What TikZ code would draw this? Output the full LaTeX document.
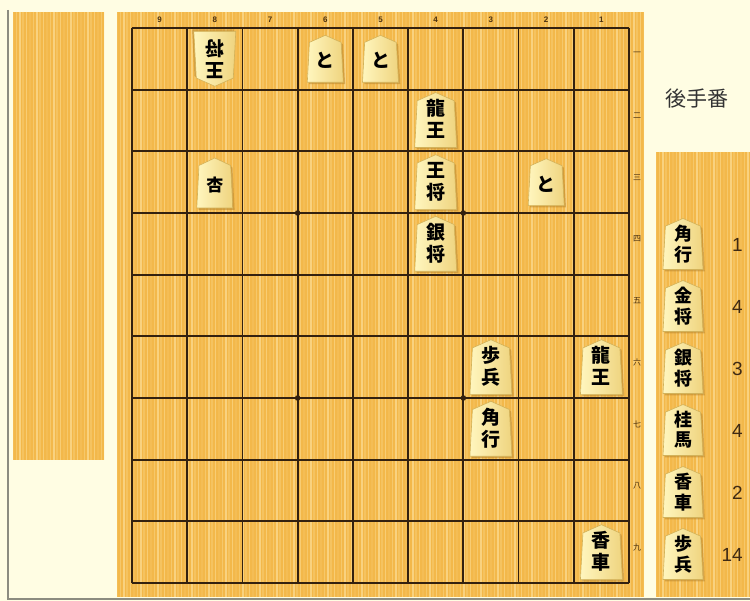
\documentclass[tikz,border=0pt]{standalone}
\usepackage{fontspec}
\setmainfont{Liberation Sans}
\newfontfamily\jp{Noto Sans CJK JP}
\definecolor{bg}{HTML}{FFFDE3}
\definecolor{boardc}{HTML}{F3B84A}
\definecolor{stripec}{HTML}{FAD584}
\definecolor{gridc}{HTML}{33210F}
\definecolor{pieceL}{HTML}{FFF6BE}
\definecolor{pieceR}{HTML}{EFD47F}
\definecolor{pieceE}{HTML}{D2B25A}
\definecolor{komashadow}{HTML}{B9862E}
\definecolor{labelc}{HTML}{4A3010}
\definecolor{framec}{HTML}{8C8C80}
\definecolor{countc}{HTML}{3F2A14}
\tikzset{
  gridline/.style={draw=gridc, line width=1.8},
  kanji/.style={font=\jp\bfseries\fontsize{19}{19}\selectfont, inner sep=0pt, text=black},
  handkanji/.style={font=\jp\bfseries\fontsize{18}{18}\selectfont, inner sep=0pt, text=black},
  piecebody/.style={left color=pieceL, right color=pieceR, draw=pieceE, line width=0.6},
  colnum/.style={font=\bfseries\fontsize{8}{8}\selectfont, text=labelc, inner sep=0pt},
  ranknum/.style={font=\jp\fontsize{8}{8}\selectfont, text=labelc, inner sep=0pt},
  countnum/.style={font=\fontsize{19}{19}\selectfont, text=countc, inner sep=0pt, anchor=east},
  pics/koma/.style n args={4}{code={
    \path[fill=komashadow, fill opacity=0.55, shift={(1.8,1.8)}]
      (-0.5*#1,0.5*#2) -- (0.5*#1,0.5*#2) -- (0.44*#1,-0.35*#2) -- (0,-0.5*#2) -- (-0.44*#1,-0.35*#2) -- cycle;
    \path[piecebody]
      (-0.5*#1,0.5*#2) -- (0.5*#1,0.5*#2) -- (0.44*#1,-0.35*#2) -- (0,-0.5*#2) -- (-0.44*#1,-0.35*#2) -- cycle;
    \node[kanji] (-a) at (0,-0.21*#2) {#3};
    \node[kanji] (-b) at (0,0.19*#2) {#4};
  }},
  pics/handkoma/.style n args={4}{code={
    \path[fill=komashadow, fill opacity=0.55, shift={(1.8,1.8)}]
      (-0.5*#1,0.5*#2) -- (0.5*#1,0.5*#2) -- (0.44*#1,-0.35*#2) -- (0,-0.5*#2) -- (-0.44*#1,-0.35*#2) -- cycle;
    \path[piecebody]
      (-0.5*#1,0.5*#2) -- (0.5*#1,0.5*#2) -- (0.44*#1,-0.35*#2) -- (0,-0.5*#2) -- (-0.44*#1,-0.35*#2) -- cycle;
    \node[handkanji] (-a) at (0,-0.2*#2) {#3};
    \node[handkanji] (-b) at (0,0.2*#2) {#4};
  }},
  pics/komaone/.style n args={4}{code={
    \path[fill=komashadow, fill opacity=0.55, shift={(1.8,1.8)}]
      (-0.5*#1,0.5*#2) -- (0.5*#1,0.5*#2) -- (0.44*#1,-0.35*#2) -- (0,-0.5*#2) -- (-0.44*#1,-0.35*#2) -- cycle;
    \path[piecebody]
      (-0.5*#1,0.5*#2) -- (0.5*#1,0.5*#2) -- (0.44*#1,-0.35*#2) -- (0,-0.5*#2) -- (-0.44*#1,-0.35*#2) -- cycle;
    \node[kanji, font=\jp\bfseries\fontsize{#4}{#4}\selectfont] (-a) at (0,0.04*#2) {#3};
  }},
}
\begin{document}
\begin{tikzpicture}[x=1pt, y=-1pt]
\useasboundingbox (0,0) rectangle (750,601);
\fill[bg] (0,0) rectangle (750,601);
% frame
\draw[framec, line width=1.4] (8,10) -- (8,599) -- (750,599);
% left hand panel
\begin{scope}
  \clip (13,12) rectangle (104,460);
  \fill[boardc] (13,12) rectangle (104,460);
  \foreach \i in {0,...,27} {
    \pgfmathsetmacro\xx{13+\i*3.4}
    \pgfmathsetmacro\op{0.2+0.18*mod(\i*7,5)}
    \draw[stripec, opacity=\op, line width=1.5] (\xx,12) -- (\xx,460);
  }
\end{scope}
% board
\begin{scope}
  \clip (117,12) rectangle (644,597);
  \fill[boardc] (117,12) rectangle (644,597);
  \foreach \i in {0,...,155} {
    \pgfmathsetmacro\xx{117+\i*3.4}
    \pgfmathsetmacro\op{0.2+0.18*mod(\i*7,5)}
    \draw[stripec, opacity=\op, line width=1.5] (\xx,12) -- (\xx,597);
  }
\end{scope}
% right hand panel
\begin{scope}
  \clip (656,152) rectangle (750,597);
  \fill[boardc] (656,152) rectangle (750,597);
  \foreach \i in {0,...,28} {
    \pgfmathsetmacro\xx{656+\i*3.4}
    \pgfmathsetmacro\op{0.2+0.18*mod(\i*7,5)}
    \draw[stripec, opacity=\op, line width=1.5] (\xx,152) -- (\xx,597);
  }
\end{scope}
% grid
\foreach \i in {0,...,9} {
  \draw[gridline] ({132+55.222*\i},28) -- ({132+55.222*\i},583);
  \draw[gridline] (132,{28+61.667*\i}) -- (629,{28+61.667*\i});
}
\fill[gridc] (297.67,213) circle (2.8);
\fill[gridc] (463.33,213) circle (2.8);
\fill[gridc] (297.67,398) circle (2.8);
\fill[gridc] (463.33,398) circle (2.8);
% column numbers
\foreach \c [count=\k from 0] in {9,8,7,6,5,4,3,2,1} {
  \node[colnum] (col\c) at ({159.6+55.222*\k},20) {\c};
}
% rank numbers
\foreach \r [count=\k from 0] in {一,二,三,四,五,六,七,八,九} {
  \node[ranknum] (rank\k) at (637,{54+61.667*\k}) {\r};
}
% pieces on board
\pic[rotate=180, transform shape] (p81) at (214.8,58.8) {koma={42}{55}{王}{将}};
\pic (p61) at (325.3,58.8) {komaone={36}{47}{と}{19}};
\pic (p51) at (380.5,58.8) {komaone={36}{47}{と}{19}};
\pic (p42) at (435.7,120.0) {koma={42}{55}{龍}{王}};
\pic (p83) at (214.8,183.0) {komaone={36}{50}{杏}{17}};
\pic (p43) at (435.7,182.2) {koma={42}{55}{王}{将}};
\pic (p23) at (546.2,182.2) {komaone={36}{47}{と}{19}};
\pic (p44) at (435.7,243.8) {koma={42}{55}{銀}{将}};
\pic (p36) at (490.9,367.2) {koma={42}{55}{歩}{兵}};
\pic (p16) at (601.4,367.2) {koma={42}{55}{龍}{王}};
\pic (p37) at (490.9,428.8) {koma={42}{55}{角}{行}};
\pic (p19) at (601.4,552.2) {koma={42}{55}{香}{車}};
% turn label
\node[font=\jp\fontsize{21}{21}\selectfont, text=black!80, inner sep=0pt] (turn) at (697,99) {後手番};
% pieces in hand
\pic (h1) at (683,244) {handkoma={40}{51}{角}{行}};
\pic (h2) at (683,306) {handkoma={40}{51}{金}{将}};
\pic (h3) at (683,368) {handkoma={40}{51}{銀}{将}};
\pic (h4) at (683,430) {handkoma={40}{51}{桂}{馬}};
\pic (h5) at (683,492) {handkoma={40}{51}{香}{車}};
\pic (h6) at (683,554) {handkoma={40}{51}{歩}{兵}};
\node[countnum] (n1) at (743,245) {1};
\node[countnum] (n2) at (743,307) {4};
\node[countnum] (n3) at (743,369) {3};
\node[countnum] (n4) at (743,431) {4};
\node[countnum] (n5) at (743,493) {2};
\node[countnum] (n6) at (743,555) {14};
\end{tikzpicture}
\end{document}
